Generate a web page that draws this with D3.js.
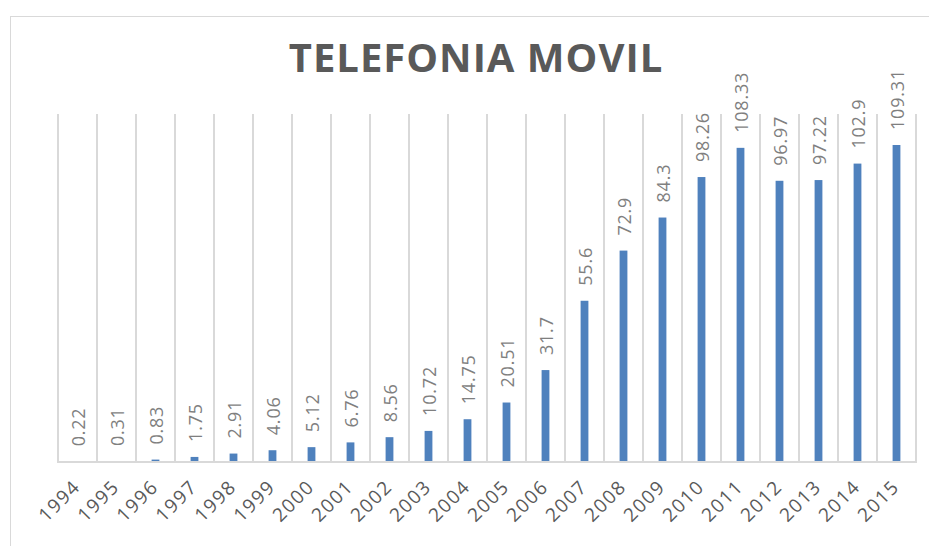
<!DOCTYPE html>
<html>
<head>
<meta charset="utf-8">
<script src="https://cdnjs.cloudflare.com/ajax/libs/d3/7.8.5/d3.min.js"></script>
<style>
	body { margin: 0; background: #fff; }
	svg { display: block; }
</style>
</head>
<body>
<svg id="chart" width="929" height="546"></svg>
<script>
	var years = ["1994", "1995", "1996", "1997", "1998", "1999", "2000", "2001", "2002", "2003", "2004",
		"2005", "2006", "2007", "2008", "2009", "2010", "2011", "2012", "2013", "2014", "2015"];
	var values = [0.22, 0.31, 0.83, 1.75, 2.91, 4.06, 5.12, 6.76, 8.56, 10.72, 14.75,
		20.51, 31.7, 55.6, 72.9, 84.3, 98.26, 108.33, 96.97, 97.22, 102.9, 109.31];
	var labels = ["0.22", "0.31", "0.83", "1.75", "2.91", "4.06", "5.12", "6.76", "8.56", "10.72", "14.75",
		"20.51", "31.7", "55.6", "72.9", "84.3", "98.26", "108.33", "96.97", "97.22", "102.9", "109.31"];
	var yDomain = [0, 120];

	var plotLeft = 58, plotRight = 916, plotTop = 114, plotBottom = 462;

	var svg = d3.select("#chart");

	// chart frame
	svg.append("rect")
		.attr("x", 10.5).attr("y", 16.5)
		.attr("width", 940).attr("height", 540)
		.attr("fill", "#fff")
		.attr("stroke", "#d9d9d9");

	var x = d3.scaleBand().domain(years).range([plotLeft, plotRight]).padding(0);
	var y = d3.scaleLinear().domain(yDomain).range([plotBottom, plotTop]);
	var barW = x.bandwidth() * 0.2;

	// vertical gridlines at category boundaries
	var edges = years.map(function(d) { return x(d); }).concat([plotRight]);
	svg.append("g").selectAll("line")
		.data(edges)
		.enter()
		.append("line")
		.attr("x1", function(d) { return d; })
		.attr("x2", function(d) { return d; })
		.attr("y1", plotTop)
		.attr("y2", plotBottom)
		.attr("stroke", "#d9d9d9")
		.attr("stroke-width", 2);

	// baseline
	svg.append("line")
		.attr("x1", plotLeft - 1).attr("x2", plotRight + 1)
		.attr("y1", plotBottom).attr("y2", plotBottom)
		.attr("stroke", "#d9d9d9")
		.attr("stroke-width", 2);

	// bars
	svg.append("g").selectAll("rect")
		.data(values)
		.enter()
		.append("rect")
		.attr("x", function(d, i) { return x(years[i]) + (x.bandwidth() - barW) / 2; })
		.attr("y", function(d) { return y(d); })
		.attr("width", barW)
		.attr("height", function(d) { return plotBottom - 1 - y(d); })
		.attr("fill", "#4f81bd");

	// value labels, rotated
	svg.append("g").selectAll("text")
		.data(values)
		.enter()
		.append("text")
		.attr("transform", function(d, i) {
			var cx = x(years[i]) + x.bandwidth() / 2 + 7;
			return "translate(" + cx + "," + (y(d) - 15) + ") rotate(-90)";
		})
		.attr("font-family", "'Open Sans', sans-serif")
		.attr("font-size", 18)
		.attr("letter-spacing", 0.8)
		.attr("fill", "#7f7f7f")
		.text(function(d, i) { return labels[i]; });

	// category labels, rotated -45
	svg.append("g").selectAll("text")
		.data(years)
		.enter()
		.append("text")
		.attr("transform", function(d) {
			var cx = x(d) + x.bandwidth() / 2 + 4;
			return "translate(" + cx + "," + (plotBottom + 26) + ") rotate(-45)";
		})
		.attr("text-anchor", "end")
		.attr("font-family", "'Open Sans', sans-serif")
		.attr("font-size", 19)
		.attr("letter-spacing", 1.5)
		.attr("fill", "#595959")
		.text(function(d) { return d; });

	// title
	svg.append("text")
		.attr("x", 476)
		.attr("y", 72)
		.attr("text-anchor", "middle")
		.attr("font-family", "'Open Sans', sans-serif")
		.attr("font-weight", "bold")
		.attr("font-size", 40)
		.attr("letter-spacing", 1)
		.attr("fill", "#595959")
		.text("TELEFONIA MOVIL");
</script>
</body>
</html>
